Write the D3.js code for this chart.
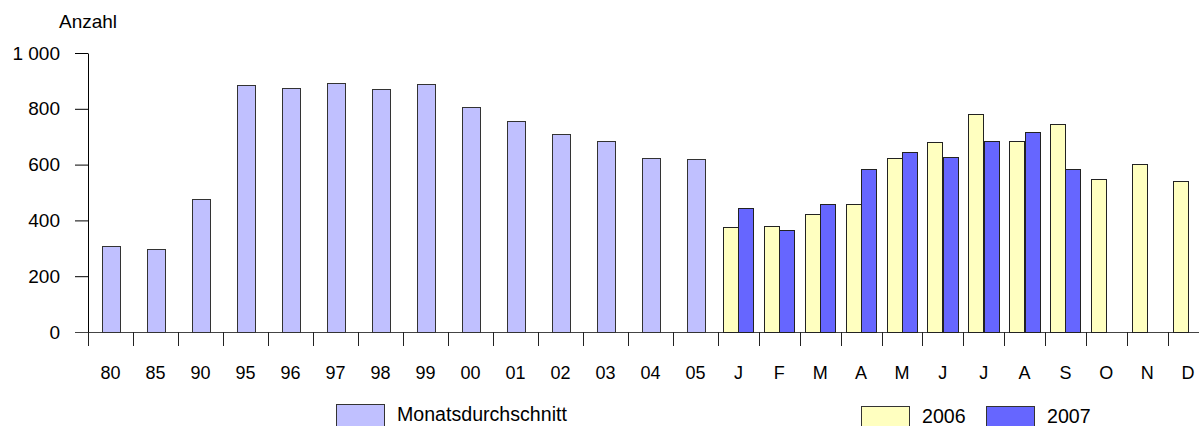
<!DOCTYPE html>
<html>
<head>
<meta charset="utf-8">
<script src="https://cdn.jsdelivr.net/npm/d3@7"></script>
<style>
  body { margin: 0; background: #fff; }
  svg { display: block; font-family: "Liberation Sans", Arial, sans-serif; }
  .lbl { font-size: 18px; fill: #000; }
  .ylbl { font-size: 19px; fill: #000; }
  .leg { font-size: 19.6px; fill: #000; }
</style>
</head>
<body>
<script>
// Jahresachse: Monatsdurchschnitt
var yearLabels = ["80", "85", "90", "95", "96", "97", "98", "99", "00", "01", "02", "03", "04", "05"];
var yearAvg = [310, 297, 477, 885, 873, 893, 870, 890, 805, 757, 711, 683, 625, 620];

// Monate 2006 / 2007
var monthLabels = ["J", "F", "M", "A", "M", "J", "J", "A", "S", "O", "N", "D"];
var values2006 = [377, 380, 422, 460, 624, 680, 782, 686, 744, 547, 602, 543];
var values2007 = [443, 367, 460, 586, 645, 628, 686, 717, 584, null, null, null];

var yTicks = [0, 200, 400, 600, 800, 1000];
var seriesNames = ["2006", "2007"];
var colors = {avg: "#c0c0ff", "2006": "#ffffc0", "2007": "#6666ff"};

var canvas = {w: 1199, h: 426},
    axisX = 88,        // position of the y axis
    base = 332,        // y of value 0
    yTop = 53;         // y of value 1000

var svg = d3.select("body").append("svg")
    .attr("width", canvas.w)
    .attr("height", canvas.h);

var y = d3.scaleLinear().domain([0, 1000]).range([base, yTop]);

// two band scales: years are wider than months
var xYear = d3.scaleBand().domain(d3.range(yearLabels.length)).range([axisX, 718]);
var xMonth = d3.scaleBand().domain(d3.range(monthLabels.length)).range([718, 1208.5]);
var xSub = d3.scaleBand().domain(seriesNames).range([0, xMonth.bandwidth()]).paddingOuter(0.333);

var fmt = d3.formatLocale({decimal: ",", thousands: "\u00a0", grouping: [3], currency: ["", ""]}).format(",d");

// y axis
var yAxis = svg.append("g")
    .attr("transform", "translate(" + axisX + ",0)")
    .call(d3.axisLeft(y).tickValues(yTicks).tickSize(13).tickPadding(15).tickFormat(fmt).tickSizeOuter(0));
yAxis.select(".domain").attr("stroke", "#000");
yAxis.selectAll(".tick line").attr("stroke", "#000");
yAxis.selectAll("text").attr("class", "ylbl").attr("font-family", null).attr("font-size", null);

svg.append("text")
    .attr("class", "ylbl")
    .attr("x", 59)
    .attr("y", 28)
    .text("Anzahl");

// x axis line + ticks at band borders
svg.append("line")
    .attr("x1", 75).attr("x2", canvas.w)
    .attr("y1", base + 0.5).attr("y2", base + 0.5)
    .attr("stroke", "#444");

var borders = yearLabels.map(function(d, i) { return xYear(i); })
    .concat(monthLabels.map(function(d, i) { return xMonth(i); }));

svg.append("g").selectAll("line")
    .data(borders)
    .enter().append("line")
    .attr("x1", function(d) { return Math.round(d) + 0.5; })
    .attr("x2", function(d) { return Math.round(d) + 0.5; })
    .attr("y1", base)
    .attr("y2", base + 14)
    .attr("stroke", "#222");

// x labels
var labelY = 379;
svg.append("g").selectAll("text")
    .data(yearLabels)
    .enter().append("text")
    .attr("class", "lbl")
    .attr("text-anchor", "middle")
    .attr("x", function(d, i) { return xYear(i) + xYear.bandwidth() / 2; })
    .attr("y", labelY)
    .text(function(d) { return d; });

svg.append("g").selectAll("text")
    .data(monthLabels)
    .enter().append("text")
    .attr("class", "lbl")
    .attr("text-anchor", "middle")
    .attr("x", function(d, i) { return xMonth(i) + xMonth.bandwidth() / 2; })
    .attr("y", labelY)
    .text(function(d) { return d; });

// year bars
var yearBarW = 18;
svg.append("g").selectAll("rect")
    .data(yearAvg)
    .enter().append("rect")
    .attr("x", function(d, i) { return Math.round(xYear(i) + (xYear.bandwidth() - yearBarW) / 2) + 0.5; })
    .attr("y", function(d) { return Math.round(y(d)) + 0.5; })
    .attr("width", yearBarW)
    .attr("height", function(d) { return Math.round(base - y(d)); })
    .attr("fill", colors.avg)
    .attr("stroke", "#333");

// month bars
var monthData = [];
monthLabels.forEach(function(m, i) {
    if (values2006[i] != null) monthData.push({i: i, s: "2006", v: values2006[i]});
    if (values2007[i] != null) monthData.push({i: i, s: "2007", v: values2007[i]});
});

svg.append("g").selectAll("rect")
    .data(monthData)
    .enter().append("rect")
    .attr("x", function(d) { return Math.round(xMonth(d.i) + xSub(d.s)) + 0.5; })
    .attr("y", function(d) { return Math.round(y(d.v)) + 0.5; })
    .attr("width", Math.round(xSub.bandwidth()))
    .attr("height", function(d) { return Math.round(base - y(d.v)); })
    .attr("fill", function(d) { return colors[d.s]; })
    .attr("stroke", "#222");

// legend
var legend = [
    {key: "avg", text: "Monatsdurchschnitt", x: 336, y: 404},
    {key: "2006", text: "2006", x: 861, y: 406},
    {key: "2007", text: "2007", x: 986, y: 406}
];
var lg = svg.append("g").selectAll("g")
    .data(legend)
    .enter().append("g")
    .attr("transform", function(d) { return "translate(" + d.x + "," + d.y + ")"; });
lg.append("rect")
    .attr("x", 0.5).attr("y", 0.5)
    .attr("width", 48).attr("height", 24)
    .attr("fill", function(d) { return colors[d.key]; })
    .attr("stroke", "#333");
lg.append("text")
    .attr("class", "leg")
    .attr("x", 61)
    .attr("y", 17)
    .text(function(d) { return d.text; });
</script>
</body>
</html>
